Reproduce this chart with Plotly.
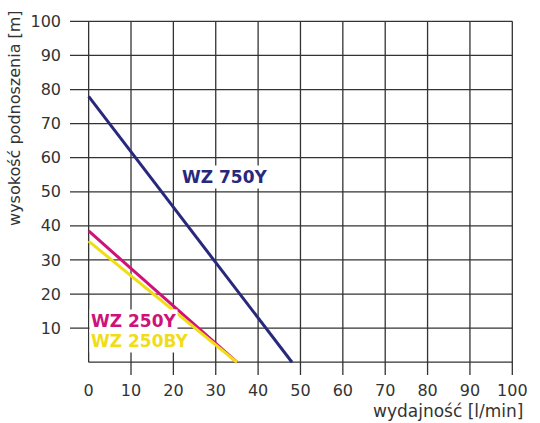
import plotly.graph_objects as go

# ---- data ----
flow_750 = [0, 48]
head_750 = [78, 0]
flow_250 = [0, 35]
head_250 = [38.5, 0]
flow_250b = [0, 35]
head_250b = [35.5, 0]

x_ticks = [0, 10, 20, 30, 40, 50, 60, 70, 80, 90, 100]
y_ticks = [0, 10, 20, 30, 40, 50, 60, 70, 80, 90, 100]
y_labels = ["", "10", "20", "30", "40", "50", "60", "70", "80", "90", "100"]

series_names = ["WZ 750Y", "WZ 250Y", "WZ 250BY"]
colors = ["#28287c", "#cf1279", "#f1dd16"]

x_range = [-4.4, 100.4]
y_range = [-3.75, 100.4]

FONT = "DejaVu Sans"
TXT = "#333333"
GRID = "#333333"

fig = go.Figure()
for fx, hy, name, c in zip([flow_750, flow_250, flow_250b],
                           [head_750, head_250, head_250b],
                           series_names, colors):
    fig.add_trace(go.Scatter(x=fx, y=hy, mode="lines", name=name,
                             line=dict(color=c, width=3), showlegend=False,
                             hoverinfo="skip"))

# grid lines (the zero lines do not extend past the origin)
for v in x_ticks:
    y0 = 0 if v == 0 else y_range[0]
    fig.add_shape(type="line", xref="x", yref="y", x0=v, x1=v, y0=y0, y1=y_ticks[-1],
                  line=dict(color=GRID, width=1.3), layer="below")
for v in y_ticks:
    x0 = 0 if v == 0 else x_range[0]
    fig.add_shape(type="line", xref="x", yref="y", x0=x0, x1=x_ticks[-1], y0=v, y1=v,
                  line=dict(color=GRID, width=1.3), layer="below")

# series labels
label_pos = [(21.6, 54.3), (0, 12.2), (0, 6.2)]
for (lx, ly), name, c in zip(label_pos, series_names, colors):
    fig.add_annotation(x=lx, y=ly, xref="x", yref="y", text="<b>" + name + "</b>",
                       showarrow=False, xanchor="left", yanchor="middle",
                       bgcolor="white", borderpad=1,
                       font=dict(family=FONT, size=17, color=c))

# axis titles
fig.add_annotation(text="wydajność [l/min]", xref="paper", yref="paper",
                   x=(532 - 70) / 451, y=(375 - 412) / 362, xanchor="right", yanchor="middle",
                   showarrow=False, font=dict(family=FONT, size=17, color=TXT))
fig.add_annotation(text="wysokość podnoszenia [m]", xref="paper", yref="paper",
                   x=(13 - 70) / 451, y=(375 - 113) / 362, xanchor="center", yanchor="middle",
                   textangle=-90, showarrow=False, font=dict(family=FONT, size=16, color=TXT))

fig.update_xaxes(range=x_range, tickvals=x_ticks, ticktext=[str(v) for v in x_ticks],
                 showgrid=False, zeroline=False, showline=False, ticks="",
                 ticklabelstandoff=4, tickfont=dict(family=FONT, size=16, color=TXT))
fig.update_yaxes(range=y_range, tickvals=y_ticks, ticktext=y_labels,
                 showgrid=False, zeroline=False, showline=False, ticks="",
                 ticklabelstandoff=8, tickfont=dict(family=FONT, size=16, color=TXT))

fig.update_layout(width=540, height=423, margin=dict(l=70, r=19, t=13, b=48),
                  paper_bgcolor="white", plot_bgcolor="white")

fig.write_html("out.html")
